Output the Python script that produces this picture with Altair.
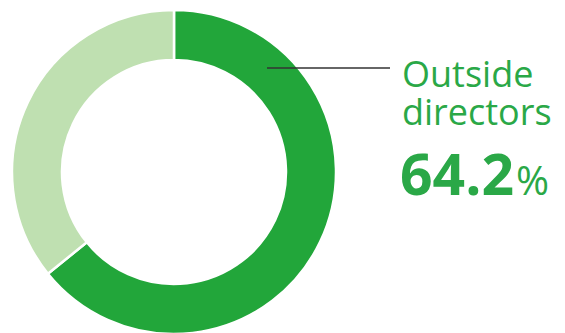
import altair as alt
import pandas as pd

# Data
segments = ["Outside directors", "Other directors"]
shares = [64.2, 35.8]
seg_order = [0, 1]
seg_colors = ["#22a63a", "#bfe0b1"]

label_lines = ["Outside", "directors"]
value_text = "64.2"
unit_text = "%"

W, H = 565, 333
CX, CY = 174, 172
R_OUT, R_IN = 162, 112
GREEN_TEXT = "#2aa847"

df = pd.DataFrame({"segment": segments, "share": shares, "ord": seg_order})

donut = alt.Chart(df).mark_arc(
    outerRadius=R_OUT, innerRadius=R_IN, stroke="white", strokeWidth=2.5
).encode(
    theta=alt.Theta("share:Q", stack=True),
    order=alt.Order("ord:Q"),
    color=alt.Color("segment:N", scale=alt.Scale(domain=segments, range=seg_colors), legend=None),
    x=alt.value(CX),
    y=alt.value(CY),
)

leader = alt.Chart(pd.DataFrame({"a": [0]})).mark_rule(
    color="#333333", strokeWidth=1.6
).encode(x=alt.value(267), x2=alt.value(390), y=alt.value(68))

lines_df = pd.DataFrame({"t": label_lines, "yy": [87, 125]})
label = alt.Chart(lines_df).mark_text(
    align="left", baseline="alphabetic", font="Open Sans", fontSize=36,
    color=GREEN_TEXT
).encode(text="t:N", x=alt.value(402), y=alt.Y("yy:Q", scale=None))

value = alt.Chart(pd.DataFrame({"t": [value_text]})).mark_text(
    align="left", baseline="alphabetic", font="Open Sans", fontSize=57,
    fontWeight="bold", color=GREEN_TEXT
).encode(text="t:N", x=alt.value(400), y=alt.value(195))

unit = alt.Chart(pd.DataFrame({"t": [unit_text]})).mark_text(
    align="left", baseline="alphabetic", font="Open Sans", fontSize=40,
    color=GREEN_TEXT
).encode(text="t:N", x=alt.value(516), y=alt.value(195))

chart = alt.layer(donut, leader, label, value, unit).properties(
    width=W, height=H, padding=0, autosize=alt.AutoSizeParams(type="none")
).configure_view(stroke=None)

chart.save("out.html", embed_options={"renderer": "svg", "actions": False})
